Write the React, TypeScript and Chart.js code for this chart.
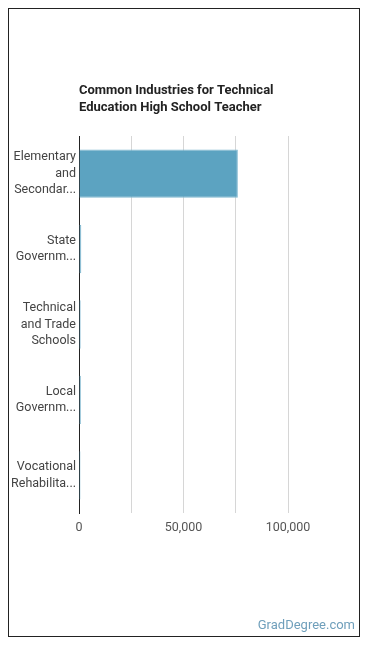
import React, { useEffect, useRef } from "react";
import { Chart, registerables } from "chart.js";

Chart.register(...registerables);

const titleLines = ["Common Industries for Technical", "Education High School Teacher"];
const categories: string[][] = [
  ["Elementary", "and", "Secondar..."],
  ["State", "Governm..."],
  ["Technical", "and Trade", "Schools"],
  ["Local", "Governm..."],
  ["Vocational", "Rehabilita..."],
];
const employment = [76000, 1100, 800, 900, 700];
const xMax = 100000;
const xStep = 25000;
const labelStep = 50000;
const sourceText = "GradDegree.com";

const FONT = "Roboto, 'Noto Sans', sans-serif";

const decorPlugin = {
  id: "decor",
  afterDraw(chart: any) {
    const ctx = chart.ctx;
    const area = chart.chartArea;
    ctx.save();
    ctx.fillStyle = "#222";
    ctx.font = `bold 13px ${FONT}`;
    ctx.textAlign = "left";
    ctx.textBaseline = "middle";
    titleLines.forEach((t, i) => ctx.fillText(t, area.left, 82 + i * 17));
    ctx.fillStyle = "#6f9fbb";
    ctx.font = `13px ${FONT}`;
    ctx.textAlign = "right";
    ctx.fillText(sourceText, chart.width - 4, 617);
    ctx.restore();
  },
};

export default function App() {
  const ref = useRef<HTMLCanvasElement>(null);
  useEffect(() => {
    if (!ref.current) return;
    const chart = new Chart(ref.current, {
      type: "bar",
      data: {
        labels: categories,
        datasets: [
          {
            data: employment,
            backgroundColor: "#5ca3c1",
            borderColor: "#80b9d0",
            borderWidth: 1,
            categoryPercentage: 1,
            barPercentage: 0.64,
          },
        ],
      },
      plugins: [decorPlugin],
      options: {
        indexAxis: "y",
        animation: false,
        responsive: false,
        maintainAspectRatio: false,
        layout: { padding: { top: 127, right: 71, bottom: 93, left: 0 } },
        plugins: { legend: { display: false }, tooltip: { enabled: false }, title: { display: false } },
        scales: {
          x: {
            min: 0,
            max: xMax,
            ticks: {
              stepSize: xStep,
              color: "#555",
              font: { family: FONT, size: 12.5 },
              padding: 7,
              maxRotation: 0,
              autoSkip: false,
              callback: (v: any) => (Number(v) % labelStep === 0 ? Number(v).toLocaleString("en-US") : ""),
            },
            grid: { color: "#d6d6d6", drawTicks: false },
            border: { display: false },
            afterFit: (s: any) => {
              s.height = 30;
            },
          },
          y: {
            ticks: { color: "#444", font: { family: FONT, size: 12.5, lineHeight: 1.32 }, padding: 3 },
            grid: { display: false, drawTicks: false },
            border: { display: true, color: "#222", width: 1 },
            afterFit: (s: any) => {
              s.width = 70;
            },
          },
        },
      },
    } as any);
    return () => chart.destroy();
  }, []);
  return (
    <div style={{ width: 350, height: 627, border: "1px solid #222" }}>
      <canvas ref={ref} width={350} height={627} style={{ display: "block" }} />
    </div>
  );
}
